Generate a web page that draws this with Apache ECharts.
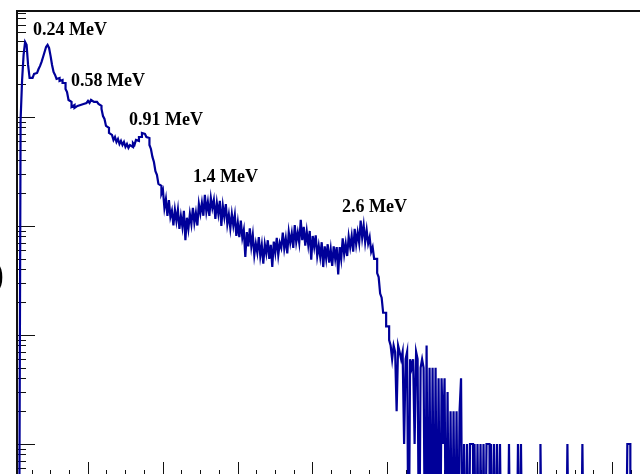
<!DOCTYPE html>
<html>
<head>
<meta charset="utf-8">
<script src="https://cdn.jsdelivr.net/npm/echarts@6/dist/echarts.min.js"></script>
<style>
  html, body { margin: 0; padding: 0; background: #fff; }
  #chart { width: 640px; height: 474px; }
</style>
</head>
<body>
<div id="chart"></div>
<script>
// Gamma-ray spectrum: counts per channel (one bin per channel, channel = array index).

// Channels 0-99: 0.24 / 0.58 / 0.91 MeV structures
const countsPeaks = [
  0, 0, 0, 0, 0, 938, 2183, 3706, 4875, 4581,
  3000, 2280, 2280, 2377, 2479, 2535, 2642, 2754, 2938, 3199,
  3548, 3948, 4387, 4581, 4297, 3631, 3000, 2588, 2428, 2233,
  2280, 2138, 2183, 2050, 2050, 1806, 1695, 1432, 1374, 1236,
  1288, 1210, 1262, 1236, 1288, 1262, 1315, 1288, 1343, 1315,
  1403, 1343, 1432, 1374, 1403, 1374, 1432, 1315, 1262, 1183,
  1020, 958, 827, 793, 713, 684, 684, 615, 655, 590,
  628, 565, 603, 553, 590, 531, 565, 520, 553, 531,
  577, 553, 615, 603, 655, 655, 713, 698, 728, 655,
  641, 553, 509, 430, 386, 318, 294, 243, 233, 197
];

// Channels 100-251: 1.4 MeV region up to the 2.6 MeV edge
const countsCompton = [
  214, 146, 177, 124, 173, 121, 138, 101, 141, 111,
  141, 94, 123, 98, 138, 74, 119, 94, 129, 104,
  147, 107, 132, 101, 159, 130, 163, 124, 193, 135,
  166, 124, 181, 146, 173, 116, 163, 129, 170, 100,
  153, 121, 159, 104, 127, 95, 129, 101, 126, 81,
  107, 79, 112, 78, 92, 52, 88, 65, 95, 65,
  83, 54, 69, 57, 79, 53, 67, 45, 68, 56,
  74, 50, 67, 42, 72, 57, 78, 54, 70, 63,
  87, 62, 77, 56, 88, 70, 86, 63, 102, 71,
  87, 70, 114, 74, 98, 66, 89, 67, 90, 49,
  81, 64, 82, 53, 66, 52, 71, 42, 65, 50,
  68, 46, 61, 43, 65, 50, 64, 36, 64, 50,
  77, 55, 69, 53, 80, 64, 81, 58, 94, 68,
  87, 70, 112, 78, 101, 71, 92, 69, 79, 58,
  64, 50, 50, 37, 34, 24, 22, 16, 16, 12,
  12, 9
];

// Channels 252-431: sparse high-energy tail
const countsTail = [
  8, 6, 8, 7, 2, 8, 7, 6, 7, 1,
  6, 7, 0, 6, 5, 6, 1, 7, 6, 0,
  5, 6, 5, 0, 8, 0, 5, 0, 5, 0,
  5, 0, 4, 0, 4, 1, 4, 0, 3, 0,
  2, 0, 2, 0, 2, 0, 2, 4, 0, 1,
  0, 1, 0, 1, 1, 0, 1, 0, 1, 0,
  1, 0, 1, 0, 1, 1, 0, 1, 0, 1,
  0, 1, 0, 1, 0, 0, 0, 0, 0, 1,
  0, 0, 0, 0, 0, 1, 0, 1, 0, 0,
  0, 0, 0, 0, 0, 0, 0, 0, 0, 0,
  1, 0, 0, 0, 0, 0, 0, 0, 0, 0,
  0, 0, 0, 0, 0, 0, 0, 0, 1, 0,
  0, 0, 0, 0, 0, 0, 0, 0, 1, 0,
  0, 0, 0, 0, 0, 0, 0, 0, 0, 0,
  0, 0, 0, 0, 0, 0, 0, 0, 0, 0,
  0, 0, 0, 0, 0, 0, 0, 0, 1, 1,
  0, 0, 0, 0, 0, 0, 0, 0, 0, 0,
  0, 0, 0, 0, 0, 0, 0, 0, 0, 0
];

// Peak annotations, anchored at (channel, counts) of the text's left/middle point
const peakLabels = [
  { text: '0.24 MeV', channel: 13.3, count: 6281 },
  { text: '0.58 MeV', channel: 38.7, count: 2118 },
  { text: '0.91 MeV', channel: 77.4, count: 938 },
  { text: '1.4 MeV', channel: 120.1, count: 279 },
  { text: '2.6 MeV', channel: 219.6, count: 149 }
];

// Axis tick positions
const majorChannelTicks = [50, 100, 150, 200, 250, 300, 350, 400];
const majorCountTicks = [1, 10, 100, 1000];
const minorCountTicks = [
  0.5, 0.6, 0.7, 0.8, 0.9,
  2, 3, 4, 5, 6, 7, 8, 9,
  20, 30, 40, 50, 60, 70, 80, 90,
  200, 300, 400, 500, 600, 700, 800, 900,
  2000, 3000, 4000, 5000, 6000, 7000, 8000, 9000
];

// Axis ranges
const channelMin = 2.6, channelMax = 431.8;
const logMin = -0.321, logMax = 3.972;   // log10(counts)

const minorChannelTicks = [];
for (let v = 12.5; v < channelMax; v += 12.5) {
  if (v % 50 !== 0) minorChannelTicks.push(v);
}

const counts = countsPeaks.concat(countsCompton, countsTail);
const floorLog = logMin - 1;              // empty bins drop below the frame
const toLog = c => (c > 0 ? Math.log10(c) : floorLog);

// Histogram outline: each bin contributes its left and right edge at the bin height
const histData = [];
counts.forEach((c, i) => {
  const v = toLog(c);
  histData.push([i, v], [i + 1, v]);
});

const AXIS_COLOR = '#111';

const chart = echarts.init(document.getElementById('chart'), null, { renderer: 'canvas' });

function xAxisDef(ticks, len, showLine) {
  return {
    type: 'value', position: 'bottom', min: channelMin, max: channelMax,
    axisLine: { show: showLine, onZero: false, lineStyle: { color: AXIS_COLOR, width: 1 } },
    axisTick: { show: true, inside: true, length: len, customValues: ticks,
                lineStyle: { color: AXIS_COLOR, width: 1 } },
    axisLabel: { show: false },
    splitLine: { show: false }
  };
}
function yAxisDef(ticks, len, showLine) {
  return {
    type: 'value', position: 'left', min: logMin, max: logMax,
    axisLine: { show: showLine, onZero: false, lineStyle: { color: AXIS_COLOR, width: 2 } },
    axisTick: { show: true, inside: true, length: len, customValues: ticks.map(Math.log10),
                lineStyle: { color: AXIS_COLOR, width: 1 } },
    axisLabel: { show: false },
    splitLine: { show: false }
  };
}

chart.setOption({
  animation: false,
  backgroundColor: '#fff',
  grid: {
    left: 17, right: -20, top: 11, bottom: -5,
    show: true, borderColor: AXIS_COLOR, borderWidth: 2,
    outerBoundsMode: 'none', containLabel: false
  },
  xAxis: [
    xAxisDef(majorChannelTicks, 17, true),
    xAxisDef(minorChannelTicks, 9, false)
  ],
  yAxis: [
    yAxisDef(majorCountTicks, 18, true),
    yAxisDef(minorCountTicks, 9, false)
  ],
  series: [{
    type: 'line',
    xAxisIndex: 0,
    yAxisIndex: 0,
    data: histData,
    symbol: 'none',
    showSymbol: false,
    clip: true,
    lineStyle: { color: '#000099', width: 2.2, join: 'miter' }
  }]
});

// Peak labels placed through the axes' own coordinate conversion
const labelGraphics = peakLabels.map(l => {
  const p = chart.convertToPixel({ xAxisIndex: 0, yAxisIndex: 0 }, [l.channel, Math.log10(l.count)]);
  return {
    type: 'text', x: p[0], y: p[1], z: 10,
    style: {
      text: l.text, fill: '#000',
      font: 'bold 18px "Liberation Serif", "Times New Roman", serif',
      align: 'left', verticalAlign: 'middle'
    }
  };
});

// Tail of the y-axis title
labelGraphics.push({
  type: 'text', x: 4, y: 277, z: 10,
  style: {
    text: ')', fill: '#000',
    font: 'bold 40px "Liberation Serif", "Times New Roman", serif',
    align: 'right', verticalAlign: 'middle'
  }
});

chart.setOption({ graphic: labelGraphics });
</script>
</body>
</html>
